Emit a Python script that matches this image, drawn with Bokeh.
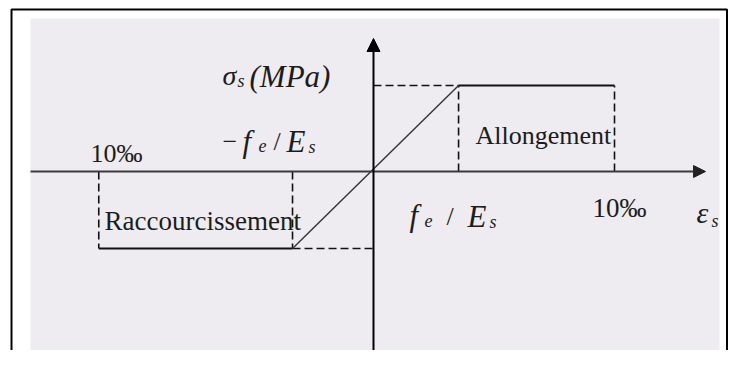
from bokeh.plotting import figure
from bokeh.models import Range1d, Arrow, NormalHead
from bokeh.core.properties import value
from bokeh.embed import file_html
from bokeh.resources import INLINE

# ---- data (schematic stress-strain law of steel; strain in per mille, stress normalised to fe)
strain_limit_neg = -11.4   # drawn position of the shortening limit (10 per mille)
yield_strain_neg = -3.36   # -fe/Es
yield_strain_pos = 3.53    # fe/Es
strain_limit_pos = 10.0    # elongation limit (10 per mille)
yield_stress_neg = -0.895  # -fe
yield_stress_pos = 1.0     # fe

plateau_x0 = [strain_limit_neg, yield_strain_pos]
plateau_x1 = [yield_strain_neg, strain_limit_pos]
plateau_y = [yield_stress_neg, yield_stress_pos]
elastic_x = [yield_strain_neg, yield_strain_pos]
elastic_y = [yield_stress_neg, yield_stress_pos]

# ---- geometry of the canvas (pixels)
W, H = 728, 350
SX, SY = 24.1, 86.0          # px per unit
OX, OY = 373, 171            # canvas position of the origin
def dx(px):
    return (px - OX) / SX
def dy(py):
    return (OY - py) / SY

p = figure(width=W, height=H, output_backend="svg", toolbar_location=None,
           x_range=Range1d(dx(0), dx(W)), y_range=Range1d(dy(H), dy(0)),
           min_border=0, min_border_left=0, min_border_right=0,
           min_border_top=0, min_border_bottom=0)
p.axis.visible = False
p.grid.visible = False
p.outline_line_color = None
p.background_fill_color = "white"
p.border_fill_color = "white"

# panel + frame
p.quad(left=[dx(30)], right=[dx(719)], top=[dy(18)], bottom=[dy(420)],
       fill_color="#eeecf0", line_color=None)
p.line([dx(11), dx(11), dx(726.5), dx(726.5)], [dy(420), dy(9), dy(9), dy(420)],
       line_color="black", line_width=2)

# axes with arrows
p.add_layout(Arrow(end=NormalHead(size=12, fill_color="#222", line_color="#222"),
                   x_start=dx(30), y_start=0, x_end=dx(705), y_end=0,
                   line_color="#3a3a3a", line_width=1.8))
p.add_layout(Arrow(end=NormalHead(size=13, fill_color="black", line_color="black"),
                   x_start=0, y_start=dy(420), x_end=0, y_end=dy(38),
                   line_color="black", line_width=2))

# dashed construction lines
ds_x0 = [0, yield_strain_pos, strain_limit_pos, yield_strain_neg, yield_strain_neg, strain_limit_neg]
ds_x1 = [yield_strain_pos, yield_strain_pos, strain_limit_pos, 0, yield_strain_neg, strain_limit_neg]
ds_y0 = [yield_stress_pos, 0, 0, yield_stress_neg, 0, 0]
ds_y1 = [yield_stress_pos, yield_stress_pos, yield_stress_pos, yield_stress_neg, yield_stress_neg, yield_stress_neg]
p.segment(x0=ds_x0, y0=ds_y0, x1=ds_x1, y1=ds_y1, line_color="#111",
          line_width=1.6, line_dash="8 4")

# law: plateaus and elastic branch
p.segment(x0=plateau_x0, y0=plateau_y, x1=plateau_x1, y1=plateau_y,
          line_color="#111", line_width=2)
p.line(elastic_x, elastic_y, line_color="#333", line_width=1.4)

# ---- texts: (text, canvas x, baseline, size, style)
labels = [
    ("σ", 222, 75, 28, "italic"),
    ("s", 237, 80, 18, "italic"),
    ("(MPa)", 249, 76, 31, "italic"),
    ("−", 222, 141, 26, "normal"),
    ("f", 242, 141, 31, "italic"),
    ("e", 258, 145, 18, "italic"),
    ("/", 273, 141, 26, "normal"),
    ("E", 286, 141, 31, "italic"),
    ("s", 308, 146, 18, "italic"),
    ("10‰", 90, 153, 26, "normal"),
    ("Allongement", 475, 135, 26, "normal"),
    ("Raccourcissement", 104, 220, 27, "normal"),
    ("f", 409, 215, 31, "italic"),
    ("e", 424, 220, 18, "italic"),
    ("/", 446, 216, 26, "normal"),
    ("E", 467, 216, 31, "italic"),
    ("s", 489, 221, 18, "italic"),
    ("10‰", 592, 207, 27, "normal"),
    ("ε", 696, 212, 30, "italic"),
    ("s", 711, 220, 18, "italic"),
]
for t, px, py, size, style in labels:
    p.text(x=[dx(px)], y=[dy(py)], text=[t], text_font=value("Liberation Serif"),
           text_font_size=f"{size}px", text_font_style=style, text_color="#1c1c1c",
           text_align="left", text_baseline="alphabetic")

open("out.html", "w").write(file_html(p, INLINE))
